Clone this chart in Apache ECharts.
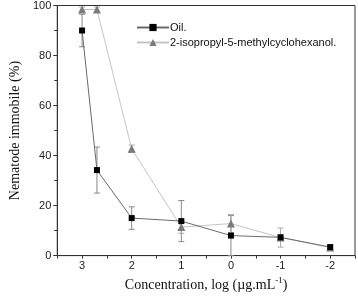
<!DOCTYPE html>
<html><head><meta charset="utf-8">
<script src="https://cdn.jsdelivr.net/npm/echarts@6/dist/echarts.min.js"></script>
<style>html,body{margin:0;padding:0;background:#fff}#c{width:358px;height:297px}</style>
</head><body><div id="c"></div>
<script>
const xVals = [3, 2.7, 2, 1, 0, -1, -2];
const oilVals = [90, 34.2, 15, 13.8, 8, 7.3, 3.4];
const oilErr = [6.5, 9.2, 4.5, 8.2, 8, 1, 0.8];
const mentholVals = [98.4, 98.4, 42.7, 11.4, 12.8, 7.2, 3.2];
const mentholErr = [1, 1, 1.5, 2.5, 3.6, 3.8, 0.8];
const seriesNames = ['Oil.', '2-isopropyl-5-methylcyclohexanol.'];

function errData(vals, errs) {
  return xVals.map((x, i) => [x, vals[i] - errs[i], vals[i] + errs[i]]);
}
function errRender(color) {
  return function (params, api) {
    const x = api.value(0);
    const lo = api.coord([x, api.value(1)]);
    const hi = api.coord([x, api.value(2)]);
    const w = 3;
    const st = { stroke: color, lineWidth: 1 };
    return { type: 'group', children: [
      { type: 'line', shape: { x1: lo[0], y1: lo[1], x2: hi[0], y2: hi[1] }, style: st },
      { type: 'line', shape: { x1: lo[0]-w, y1: lo[1], x2: lo[0]+w, y2: lo[1] }, style: st },
      { type: 'line', shape: { x1: hi[0]-w, y1: hi[1], x2: hi[0]+w, y2: hi[1] }, style: st }
    ]};
  };
}
const chart = echarts.init(document.getElementById('c'), null, { renderer: 'canvas' });
const sans = 'Liberation Sans, Arial, sans-serif';
const serif = 'Liberation Serif, Times New Roman, serif';
chart.setOption({
  animation: false,
  grid: { left: 41, right: 3, top: 5, bottom: 36, show: true, borderColor: '#333', borderWidth: 1 },
  legend: {
    left: 131, top: 17, orient: 'vertical', itemGap: 4, itemWidth: 32, itemHeight: 9,
    data: seriesNames,
    textStyle: { fontFamily: sans, fontSize: 11, color: '#111', padding: [0, 0, 0, -4] }
  },
  xAxis: {
    type: 'value', inverse: true, min: -2.5, max: 3.5, interval: 0.5,
    splitLine: { show: false },
    axisLine: { onZero: false, lineStyle: { color: '#333' } },
    axisTick: { length: 3, lineStyle: { color: '#333' } },
    axisLabel: { fontFamily: sans, fontSize: 11, color: '#222', margin: 5,
      formatter: v => (Math.abs(v - Math.round(v)) < 1e-6 ? String(Math.round(v)) : '') },
    name: 'Concentration, log (µg.mL{s|-1})',
    nameLocation: 'middle', nameGap: 20,
    nameTextStyle: { fontFamily: serif, fontSize: 14, color: '#111',
      rich: { s: { fontFamily: serif, fontSize: 9, verticalAlign: 'top', padding: [0, 0, 8, 0] } } }
  },
  yAxis: {
    type: 'value', min: 0, max: 100, interval: 20,
    splitLine: { show: false },
    axisLine: { show: true, onZero: false, lineStyle: { color: '#333' } },
    axisTick: { show: true, length: 4, lineStyle: { color: '#333' } },
    minorTick: { show: true, splitNumber: 2, length: 3, lineStyle: { color: '#333' } },
    axisLabel: { fontFamily: sans, fontSize: 11, color: '#222', margin: 6 },
    name: 'Nematode immobile (%)', nameLocation: 'middle', nameGap: 26,
    nameTextStyle: { fontFamily: serif, fontSize: 14, color: '#111' }
  },
  series: [
    { type: 'custom', data: errData(oilVals, oilErr), renderItem: errRender('#888'), z: 1, silent: true },
    { type: 'custom', data: errData(mentholVals, mentholErr), renderItem: errRender('#aaa'), z: 1, silent: true },
    { name: seriesNames[1], type: 'line', data: xVals.map((x, i) => [x, mentholVals[i]]),
      symbol: 'triangle', symbolSize: 8, lineStyle: { color: '#c4c4c4', width: 1 },
      itemStyle: { color: '#7a7a7a' }, z: 2 },
    { name: seriesNames[0], type: 'line', data: xVals.map((x, i) => [x, oilVals[i]]),
      symbol: 'rect', symbolSize: 6, lineStyle: { color: '#6a6a6a', width: 1 },
      itemStyle: { color: '#000' }, z: 3 }
  ]
});
</script></body></html>
